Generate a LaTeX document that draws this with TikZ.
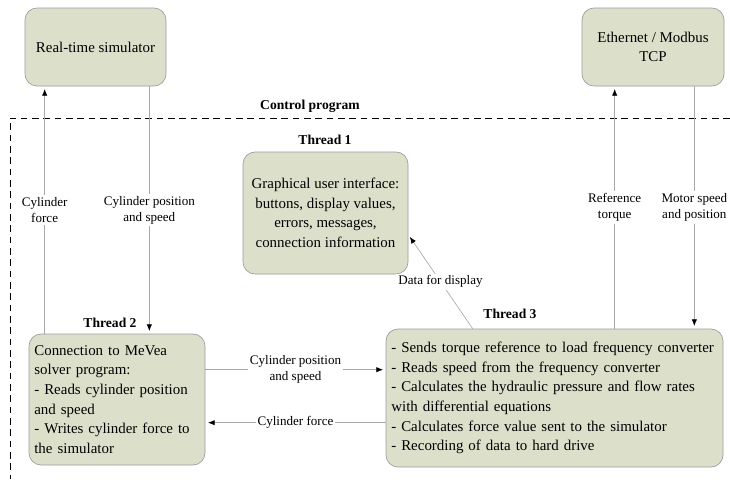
\documentclass[tikz,border=0pt]{standalone}
\usepackage{fontspec}
\setmainfont{Liberation Serif}
\usetikzlibrary{arrows.meta}
\definecolor{boxfill}{HTML}{DCE0CB}
\definecolor{boxline}{HTML}{9A9A9A}
\definecolor{flowline}{HTML}{A8A8A8}

\begin{document}
\begin{tikzpicture}[
  x=0.75pt, y=-0.75pt,
  block/.style={rectangle, rounded corners=9pt, draw=boxline, fill=boxfill, line width=0.5pt,
    font=\fontsize{11.2}{14.7}\selectfont, inner sep=4pt},
  thread/.style={font=\fontsize{10.2}{12}\selectfont\bfseries, inner sep=1pt},
  flow/.style={draw=flowline, line width=0.5pt, -{Latex[length=5pt,width=4pt,color=black]}, shorten >=2pt},
  tag/.style={fill=white, font=\fontsize{9.8}{12.2}\selectfont, align=center, inner sep=1.5pt}
]
\useasboundingbox (0,0) rectangle (730,479);

% outside
\node [block, minimum width=105.75pt, minimum height=58.5pt] (sim) at (95.5,47) {Real-time simulator};
\node [block, minimum width=106.5pt, minimum height=58.5pt, align=center] (eth) at (653,47) {Ethernet / Modbus\\TCP};

% control program frame
\draw [dashed, dash pattern=on 5pt off 3.5pt, line width=0.6pt] (730,118) -- (10,118) -- (10,479);
\node [thread] (ctrl) at (310,106) {Control program};

% threads
\node [block, minimum width=123.75pt, minimum height=91.5pt, align=center] (gui) at (325.5,213)
  {Graphical user interface:\\buttons, display values,\\errors, messages,\\connection information};
\node [thread] (t1) at (325,140) {Thread 1};

\node [block, minimum width=132pt, minimum height=98.25pt, text width=124pt, align=left] (thrtwo) at (117,399.5)
  {Connection to MeVea\\solver program:\\- Reads cylinder position\\and speed\\- Writes cylinder force to\\the simulator};
\node [thread] (t2) at (110,323) {Thread 2};

\node [block, minimum width=252.75pt, minimum height=103.5pt, text width=244.75pt, align=left] (thrthree) at (554.5,398)
  {- Sends torque reference to load frequency converter\\- Reads speed from the frequency converter\\- Calculates the hydraulic pressure and flow rates\\with differential equations\\- Calculates force value sent to the simulator\\- Recording of data to hard drive};
\node [thread] (t3) at (510,314) {Thread 3};

% connections
\draw [flow] ([xshift=12pt]thrtwo.north west) -- ([xshift=12pt]thrtwo.north west |- sim.south)
  node [tag, pos=0.5] {Cylinder\\force};
\draw [flow] ([xshift=-12.75pt]sim.south east) -- ([xshift=-12.75pt]sim.south east |- thrtwo.north)
  node [tag, pos=0.5] {Cylinder position\\and speed};
\draw [flow] ([xshift=24.75pt]eth.south west |- thrthree.north) -- ([xshift=24.75pt]eth.south west)
  node [tag, pos=0.5] {Reference\\torque};
\draw [flow] ([xshift=-22.5pt]eth.south east) -- ([xshift=-22.5pt]eth.south east |- thrthree.north)
  node [tag, pos=0.5] {Motor speed\\and position};
\draw [flow] ([yshift=-27pt]thrtwo.north east) -- ([yshift=-27pt]thrtwo.north east -| thrthree.west)
  node [tag, pos=0.5] {Cylinder position\\and speed};
\draw [flow] ([yshift=-66.75pt]thrtwo.north east -| thrthree.west) -- ([yshift=-66.75pt]thrtwo.north east)
  node [tag, pos=0.5] {Cylinder force};
\draw [flow] ([xshift=65.25pt]thrthree.north west) -- ([yshift=-62.25pt]gui.north east)
  node [tag, pos=0.5] {Data for display};
\end{tikzpicture}
\end{document}
